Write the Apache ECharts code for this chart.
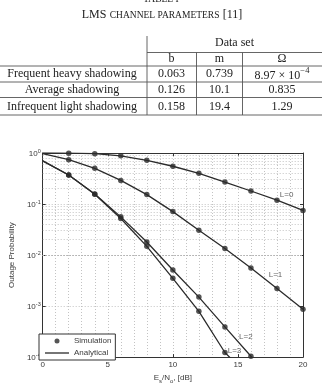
<!DOCTYPE html>
<html>
<head>
<meta charset="utf-8">
<script src="https://cdn.jsdelivr.net/npm/echarts@6/dist/echarts.min.js"></script>
<style>
html,body{margin:0;padding:0;background:#fff;}
#chart{width:322px;height:389px;}
</style>
</head>
<body>
<div id="chart"></div>
<script>
// ---------------- data ----------------
const tableTitle = 'TABLE I';
const tableCaptionLead = 'LMS';
const tableCaptionRest = 'CHANNEL PARAMETERS';
const tableCaptionRef = '[11]';
const tableGroupHeader = 'Data set';
const tableColumns = ['b', 'm', 'Ω'];
const tableRowNames = ['Frequent heavy shadowing', 'Average shadowing', 'Infrequent light shadowing'];
const tableB = ['0.063', '0.126', '0.158'];
const tableM = ['0.739', '10.1', '19.4'];
const tableOmega = ['8.97 × 10^-4', '0.835', '1.29'];

const snrDb = [0, 2, 4, 6, 8, 10, 12, 14, 16, 18, 20];
const outageL0 = [1.0, 0.99, 0.97, 0.88, 0.72, 0.55, 0.40, 0.27, 0.18, 0.119, 0.075];
const outageL1 = [0.97, 0.74, 0.50, 0.29, 0.153, 0.071, 0.0305, 0.0134, 0.0056, 0.0022, 0.00087];
const outageL2 = [0.70, 0.37, 0.157, 0.056, 0.018, 0.0051, 0.0015, 0.00039, 0.000104, 0.000025, null];
const outageL3 = [0.70, 0.37, 0.155, 0.052, 0.0148, 0.0035, 0.00079, 0.000123, 0.000038, null, null];
const curveNames = ['L=0', 'L=1', 'L=2', 'L=3'];

const xTicks = [0, 5, 10, 15, 20];
const yTickExponents = [0, -1, -2, -3, -4];
const xAxisTitle = 'E_s/N_o, [dB]';
const yAxisTitle = 'Outage Probability';
const legendNames = ['Simulation', 'Analytical'];

// ---------------- build ----------------
const curves = [outageL0, outageL1, outageL2, outageL3];
const yMin = Math.pow(10, Math.min(...yTickExponents));
const yMax = Math.pow(10, Math.max(...yTickExponents));
const xMin = Math.min(...xTicks), xMax = Math.max(...xTicks);
const xStep = xTicks[1] - xTicks[0];

const minorLogLines = [];
for (let e = Math.min(...yTickExponents); e < Math.max(...yTickExponents); e++) {
  for (let k = 2; k <= 9; k++) minorLogLines.push({ yAxis: k * Math.pow(10, e) });
}

const LINE_COLOR = '#2b2b2b';
const GRID_COLOR = '#b4b4b4';
const TEXT_COLOR = '#3a3a3a';
const SANS = 'Liberation Sans';
const SERIF = 'Liberation Serif';

const series = [];
curves.forEach((vals, i) => {
  const s = {
    name: legendNames[1],
    type: 'line',
    data: snrDb.map((x, j) => [x, vals[j]]),
    symbol: 'none',
    clip: true,
    lineStyle: { color: LINE_COLOR, width: 1.3 },
    itemStyle: { color: LINE_COLOR },
    z: 3,
    animation: false
  };
  if (i === 0) {
    s.markLine = {
      silent: true, symbol: 'none', label: { show: false },
      lineStyle: { color: GRID_COLOR, type: [1, 2], width: 0.8 },
      data: minorLogLines, animation: false, z: 1
    };
  }
  series.push(s);
});
curves.forEach((vals) => {
  series.push({
    name: legendNames[0],
    type: 'scatter',
    data: snrDb.map((x, j) => [x, vals[j]]).filter(p => p[0] > 0 && p[1] != null && p[1] >= yMin),
    symbol: 'circle',
    symbolSize: 5.5,
    itemStyle: { color: LINE_COLOR },
    z: 4,
    animation: false
  });
});
// curve annotations
const labelCoords = [[18.74, 0.150], [17.89, 0.00414], [15.61, 0.000246], [14.74, 0.000134]];
series.push({
  type: 'scatter',
  name: 'curveLabels',
  data: curveNames.map((n, i) => ({ value: labelCoords[i], name: n })),
  symbol: 'circle',
  symbolSize: 1,
  itemStyle: { color: 'rgba(0,0,0,0)' },
  silent: true,
  label: { show: true, position: 'inside', formatter: p => p.name, fontFamily: SANS, fontSize: 8, color: TEXT_COLOR },
  z: 5,
  animation: false
});

// table graphics
const graphics = [];
const tableLine = (x1, y1, x2, y2) => graphics.push({
  type: 'line', shape: { x1, y1, x2, y2 }, style: { stroke: '#555', lineWidth: 0.9 }, silent: true
});
const tableText = (text, x, y, extra) => graphics.push(Object.assign({
  type: 'text', x, y,
  style: Object.assign({ text, fill: '#222', font: '12px "Liberation Serif"', textAlign: 'center', textVerticalAlign: 'middle' }, extra || {}),
  silent: true
}));

tableText(tableTitle, 161, -1, { font: '9.5px "Liberation Serif"' });
graphics.push({
  type: 'text', x: 162, y: 14, silent: true,
  style: {
    text: '{a|' + tableCaptionLead + '} {b|' + tableCaptionRest + '} {a|' + tableCaptionRef + '}',
    textAlign: 'center', textVerticalAlign: 'middle', fill: '#222',
    rich: {
      a: { fontFamily: SERIF, fontSize: 12, fill: '#222', verticalAlign: 'bottom', lineHeight: 13 },
      b: { fontFamily: SERIF, fontSize: 9.5, fill: '#222', verticalAlign: 'bottom', lineHeight: 13 }
    }
  }
});

const colX = [72, 171.5, 219.5, 282];
const vx = [147, 196.5, 242.5];
const hy = [52.5, 66, 82, 97.5, 115];
tableLine(vx[0], 36, vx[0], hy[4]);
tableLine(vx[0], hy[0], 322, hy[0]);
tableLine(vx[1], hy[0], vx[1], hy[4]);
tableLine(vx[2], hy[0], vx[2], hy[4]);
for (let i = 1; i < hy.length; i++) tableLine(0, hy[i], 322, hy[i]);

tableText(tableGroupHeader, (vx[0] + 322) / 2, 43);
tableColumns.forEach((c, i) => tableText(c, colX[i + 1], 59));
const rowY = [74, 89.5, 106.5];
tableRowNames.forEach((n, i) => {
  tableText(n, colX[0], rowY[i]);
  tableText(tableB[i], colX[1], rowY[i]);
  tableText(tableM[i], colX[2], rowY[i]);
  const om = tableOmega[i];
  if (om.indexOf('^') >= 0) {
    const parts = om.split('^');
    graphics.push({
      type: 'text', x: colX[3], y: rowY[i], silent: true,
      style: {
        text: '{n|' + parts[0] + '}{s|' + parts[1].replace('-', '−') + '}',
        textAlign: 'center', textVerticalAlign: 'middle',
        rich: {
          n: { fontFamily: SERIF, fontSize: 12, fill: '#222', verticalAlign: 'bottom', lineHeight: 15 },
          s: { fontFamily: SERIF, fontSize: 8.5, fill: '#222', verticalAlign: 'top', lineHeight: 9 }
        }
      }
    });
  } else {
    tableText(om, colX[3], rowY[i]);
  }
});

const xNameRich = (() => {
  let out = '';
  const re = /_(\w)/g;
  let last = 0, m;
  while ((m = re.exec(xAxisTitle)) !== null) {
    if (m.index > last) out += '{n|' + xAxisTitle.slice(last, m.index) + '}';
    out += '{sub|' + m[1] + '}';
    last = m.index + m[0].length;
  }
  if (last < xAxisTitle.length) out += '{n|' + xAxisTitle.slice(last) + '}';
  return out;
})();

const gridAxisCommon = {
  axisLine: { show: true, onZero: false, lineStyle: { color: '#333', width: 1 } },
  axisTick: { show: true, inside: true, length: 3, lineStyle: { color: '#333' } }
};

const option = {
  backgroundColor: '#fff',
  animation: false,
  grid: { left: 33, right: 19, top: 153, bottom: 24, containLabel: false },
  legend: {
    show: true,
    orient: 'vertical',
    left: 39, top: 334,
    data: [
      { name: legendNames[0], icon: 'circle' },
      { name: legendNames[1], icon: 'path://M0,2 L24,2 L24,3.3 L0,3.3 Z', itemStyle: { color: LINE_COLOR } }
    ],
    itemWidth: 24, itemHeight: 5, itemGap: 0,
    padding: [1, 4, 1, 6],
    backgroundColor: '#fff', borderColor: '#333', borderWidth: 1, borderRadius: 0,
    textStyle: { fontFamily: SANS, fontSize: 8, color: TEXT_COLOR, lineHeight: 12, padding: [0, 0, 0, 0] },
    selectedMode: false
  },
  xAxis: [
    Object.assign({}, gridAxisCommon, {
      type: 'value', min: xMin, max: xMax, interval: xStep, position: 'bottom',
      name: xNameRich, nameLocation: 'middle', nameGap: 12,
      nameTextStyle: {
        color: TEXT_COLOR,
        rich: {
          n: { fontFamily: SANS, fontSize: 8, color: TEXT_COLOR, verticalAlign: 'top', lineHeight: 10 },
          sub: { fontFamily: SANS, fontSize: 6, color: TEXT_COLOR, verticalAlign: 'bottom', lineHeight: 6 }
        }
      },
      axisLabel: { fontFamily: SANS, fontSize: 8, color: TEXT_COLOR, margin: 4 },
      splitLine: { show: true, lineStyle: { color: GRID_COLOR, type: [1, 2], width: 0.8 } },
      minorTick: { show: false, splitNumber: 5 },
      minorSplitLine: { show: true, lineStyle: { color: GRID_COLOR, type: [1, 2], width: 0.8 } }
    }),
    Object.assign({}, gridAxisCommon, {
      type: 'value', min: xMin, max: xMax, interval: xStep, position: 'top',
      axisLabel: { show: false }, splitLine: { show: false }
    })
  ],
  yAxis: [
    Object.assign({}, gridAxisCommon, {
      type: 'log', logBase: 10, min: yMin, max: yMax, position: 'left',
      name: yAxisTitle, nameLocation: 'middle', nameGap: 21, nameRotate: 90,
      nameTextStyle: { fontFamily: SANS, fontSize: 8, color: TEXT_COLOR },
      axisLabel: {
        margin: 2,
        formatter: v => '{b|10}{s|' + Math.round(Math.log10(v)) + '}',
        rich: {
          b: { fontFamily: SANS, fontSize: 8, color: TEXT_COLOR, verticalAlign: 'bottom', lineHeight: 10 },
          s: { fontFamily: SANS, fontSize: 5.5, color: TEXT_COLOR, verticalAlign: 'top', lineHeight: 6 }
        }
      },
      splitLine: { show: true, lineStyle: { color: GRID_COLOR, type: [1, 2], width: 0.8 } }
    }),
    Object.assign({}, gridAxisCommon, {
      type: 'log', logBase: 10, min: yMin, max: yMax, position: 'right',
      axisLabel: { show: false }, splitLine: { show: false }
    })
  ],
  series: series,
  graphic: graphics
};

const chart = echarts.init(document.getElementById('chart'), null, { renderer: 'canvas' });
chart.setOption(option);
</script>
</body>
</html>
